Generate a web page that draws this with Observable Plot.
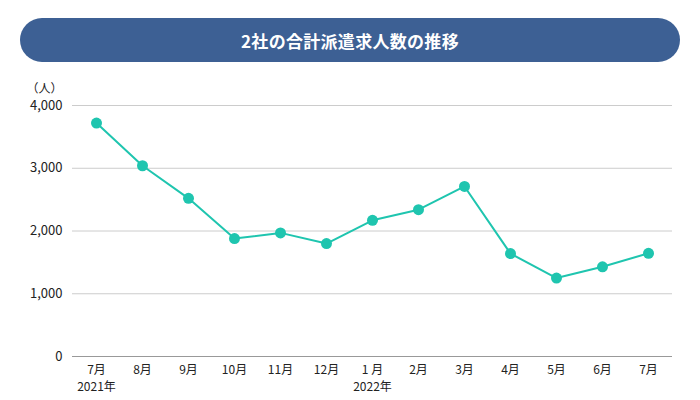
<!DOCTYPE html>
<html>
<head>
<meta charset="utf-8">
<script src="https://cdn.jsdelivr.net/npm/d3@7"></script>
<script src="https://cdn.jsdelivr.net/npm/@observablehq/plot@0.6"></script>
<style>
  html, body { margin: 0; padding: 0; background: #fff; }
  body { width: 700px; height: 400px; overflow: hidden; font-family: "Noto Sans CJK JP", "Noto Sans", sans-serif; }
  .title {
    margin: 18px 20px 0 20px; height: 44px; border-radius: 22px;
    background: #3d6094; color: #fff; font-weight: 700; font-size: 17px;
    display: flex; align-items: center; justify-content: center; letter-spacing: 0.3px;
  }
  #chart { margin-top: 8px; }
  #chart svg { display: block; }
</style>
</head>
<body>
<div class="title">2社の合計派遣求人数の推移</div>
<div id="chart"></div>
<script>
const months = ["2021-07","2021-08","2021-09","2021-10","2021-11","2021-12","2022-01","2022-02","2022-03","2022-04","2022-05","2022-06","2022-07"];
const monthLabels = ["7月","8月","9月","10月","11月","12月","1 月","2月","3月","4月","5月","6月","7月"];
const values = [3720, 3040, 2520, 1880, 1970, 1800, 2170, 2340, 2710, 1640, 1250, 1430, 1645];
const yTicks = [0, 1000, 2000, 3000, 4000];
const yearMonths = ["2021-07", "2022-01"];
const yearLabels = ["2021年", "2022年"];
const unitLabel = "（人）";

const data = months.map((m, i) => ({month: m, value: values[i]}));
const years = yearMonths.map((m, i) => ({month: m, label: yearLabels[i]}));
const labelOf = new Map(months.map((m, i) => [m, monthLabels[i]]));

const color = "#1fc5af";
const chart = Plot.plot({
  width: 700,
  height: 330,
  marginTop: 35,
  marginBottom: 44,
  marginLeft: 72,
  marginRight: 28,
  style: {fontFamily: '"Noto Sans CJK JP", "Noto Sans", sans-serif', color: "#222", background: "#fff"},
  x: {type: "point", domain: months, padding: 0.5, label: null},
  y: {domain: [0, 4000], label: null},
  marks: [
    Plot.gridY(yTicks, {stroke: "#cccccc", strokeOpacity: 1, strokeWidth: 1}),
    Plot.ruleY([0], {stroke: "#999999", strokeWidth: 1}),
    Plot.axisY(yTicks, {tickSize: 0, tickPadding: 10, fontSize: 13, tickFormat: d3.format(","), label: null}),
    Plot.axisX(months, {tickSize: 0, tickPadding: 9, fontSize: 12, tickFormat: d => labelOf.get(d), label: null}),
    Plot.text(years, {x: "month", y: () => 0, text: "label", dy: 31, fontSize: 12, lineAnchor: "middle", fill: "#222"}),
    Plot.text([unitLabel], {frameAnchor: "top-left", text: d => d, dx: -28, dy: -16, fontSize: 12, lineAnchor: "middle", textAnchor: "middle", fill: "#222"}),
    Plot.line(data, {x: "month", y: "value", stroke: color, strokeWidth: 2}),
    Plot.dot(data, {x: "month", y: "value", fill: color, r: 5.5, stroke: "none"})
  ]
});
document.getElementById("chart").appendChild(chart);
</script>
</body>
</html>
